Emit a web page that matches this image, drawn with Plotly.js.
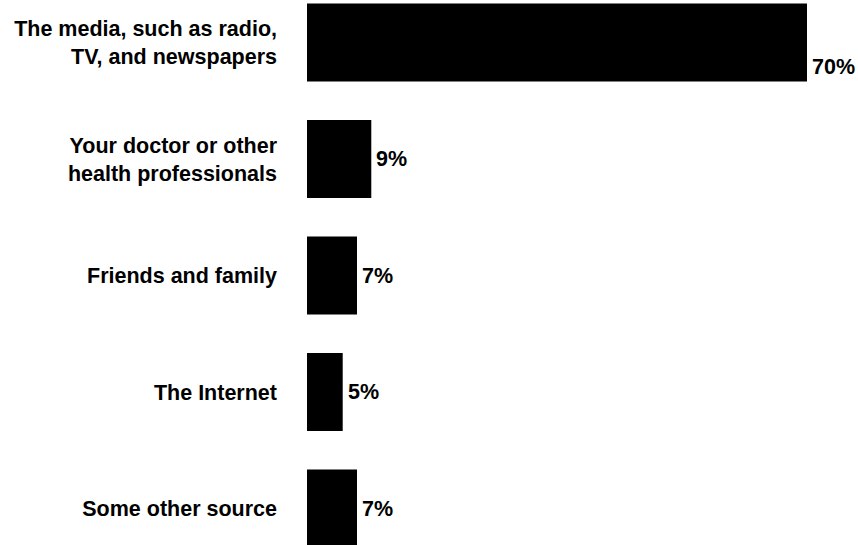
<!DOCTYPE html>
<html>
<head>
<meta charset="utf-8">
<script src="https://cdn.plot.ly/plotly-3.0.1.min.js"></script>
<style>html,body{margin:0;padding:0;background:#fff;}#chart{width:858px;height:545px;}</style>
</head>
<body>
<div id="chart"></div>
<script>
const categories = [
  "The media, such as radio,<br>TV, and newspapers",
  "Your doctor or other<br>health professionals",
  "Friends and family",
  "The Internet",
  "Some other source"
];
const values = [70, 9, 7, 5, 7];
const valueLabels = ["70%", "9%", "7%", "5%", "7%"];

const FONT = "Liberation Sans, Arial, sans-serif";
const FS = 21.5;

const trace = {
  type: "bar",
  orientation: "h",
  x: values,
  y: categories,
  marker: {color: "#000000", line: {width: 0}},
  hoverinfo: "none"
};

const annotations = values.map((v, i) => ({
  x: v, y: categories[i], xref: "x", yref: "y",
  text: valueLabels[i],
  showarrow: false,
  xanchor: "left", yanchor: "middle",
  xshift: 3,
  yshift: i === 0 ? -24 : 0,
  font: {family: FONT, size: FS, color: "#000", weight: "bold"}
}));

const layout = {
  width: 858, height: 545,
  margin: {l: 307, r: 1, t: 0, b: 0, pad: 0},
  paper_bgcolor: "#ffffff",
  plot_bgcolor: "#ffffff",
  showlegend: false,
  bargap: 0.33,
  xaxis: {range: [0, 77], showgrid: false, zeroline: false, showticklabels: false, showline: false, fixedrange: true},
  yaxis: {
    type: "category",
    range: [4.313, -0.365],
    showgrid: false, zeroline: false, showline: false,
    ticks: "",
    ticklabelstandoff: 29,
    tickfont: {family: FONT, size: FS, color: "#000", weight: "bold"}
  },
  annotations: annotations
};

Plotly.newPlot("chart", [trace], layout, {staticPlot: true, displayModeBar: false});
</script>
</body>
</html>
